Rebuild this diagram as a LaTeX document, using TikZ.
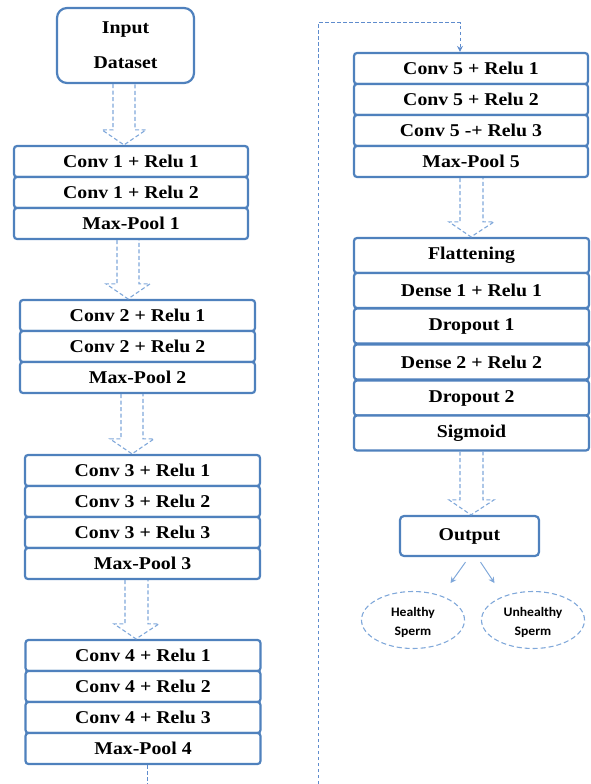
\documentclass[tikz,border=0pt]{standalone}
\usepackage{fontspec}
\setmainfont{Liberation Serif}[FakeStretch=1.1]
\newfontfamily\carl{Carlito}[FakeStretch=1.05]
\usetikzlibrary{calc,arrows.meta,shapes.geometric}
\definecolor{boxblue}{RGB}{79,129,189}
\definecolor{lblue}{RGB}{128,168,218}
\definecolor{lineblue}{RGB}{95,140,205}
\tikzset{
  layer/.style={draw=boxblue, line width=2.2pt, rounded corners=3pt, minimum height=31pt,
    inner sep=0pt, fill=white, font=\fontsize{18}{20}\selectfont\bfseries},
  harr/.style={draw=lblue, line width=1.1pt, dash pattern=on 4pt off 2.5pt},
  conn/.style={draw=lineblue, line width=1pt, dash pattern=on 3.5pt off 2.5pt},
  outcome/.style={ellipse, draw=lblue, line width=1.1pt, dash pattern=on 5pt off 3pt,
    minimum width=103pt, minimum height=57pt, inner sep=0pt, align=center,
    font=\carl\bfseries\fontsize{13}{19}\selectfont},
  smallarr/.style={draw=lblue, line width=1pt, -{Stealth[length=6pt,width=6pt]}}
}
\newcommand\harrow[5]{%
  \draw[harr] let \p1=(#1.south), \p2=(#2.north) in
    (#3pt,\y1) -- (#3pt,\y2+15pt) -- (#3pt-11pt,\y2+15pt) -- (#5pt,\y2)
    -- (#4pt+11pt,\y2+15pt) -- (#4pt,\y2+15pt) -- (#4pt,\y1);}
\begin{document}
\begin{tikzpicture}[x=1pt,y=-1pt]
\useasboundingbox (0,0) rectangle (591,784);

% Input
\node[draw=boxblue, line width=2.2pt, rounded corners=10pt, minimum width=137pt,
  minimum height=75pt, align=center, font=\fontsize{18}{35}\selectfont\bfseries]
  (in) at (125.5,45.5) {Input\\Dataset};

% Group 1
\node[layer, minimum width=234pt] (c1a) at (131,161.5) {Conv 1 + Relu 1};
\node[layer, minimum width=234pt] (c1b) at (131,192.5) {Conv 1 + Relu 2};
\node[layer, minimum width=234pt] (c1c) at (131,223.5) {Max-Pool 1};

% Group 2
\node[layer, minimum width=235pt] (c2a) at (137.5,315.5) {Conv 2 + Relu 1};
\node[layer, minimum width=235pt] (c2b) at (137.5,346.5) {Conv 2 + Relu 2};
\node[layer, minimum width=235pt] (c2c) at (137.5,377.5) {Max-Pool 2};

% Group 3
\node[layer, minimum width=235pt] (c3a) at (142.5,470.5) {Conv 3 + Relu 1};
\node[layer, minimum width=235pt] (c3b) at (142.5,501.5) {Conv 3 + Relu 2};
\node[layer, minimum width=235pt] (c3c) at (142.5,532.5) {Conv 3 + Relu 3};
\node[layer, minimum width=235pt] (c3d) at (142.5,563.5) {Max-Pool 3};

% Group 4
\node[layer, minimum width=235pt] (c4a) at (143,655.5) {Conv 4 + Relu 1};
\node[layer, minimum width=235pt] (c4b) at (143,686.5) {Conv 4 + Relu 2};
\node[layer, minimum width=235pt] (c4c) at (143,717.5) {Conv 4 + Relu 3};
\node[layer, minimum width=235pt] (c4d) at (143,748.5) {Max-Pool 4};

% Group 5
\node[layer, minimum width=234pt] (c5a) at (471,68.5) {Conv 5 + Relu 1};
\node[layer, minimum width=234pt] (c5b) at (471,99.5) {Conv 5 + Relu 2};
\node[layer, minimum width=234pt] (c5c) at (471,130.5) {Conv 5 -+ Relu 3};
\node[layer, minimum width=234pt] (c5d) at (471,161.5) {Max-Pool 5};

% Group 6
\node[layer, minimum width=235pt, minimum height=35pt] (fl) at (471.5,255.5) {Flattening};
\node[layer, minimum width=235pt, minimum height=35pt] (d1) at (471.5,290.5) {Dense 1 + Relu 1};
\node[layer, minimum width=235pt, minimum height=35pt] (dr1) at (471.5,326) {Dropout 1};
\node[layer, minimum width=235pt, minimum height=35pt] (d2) at (471.5,362) {Dense 2 + Relu 2};
\node[layer, minimum width=235pt, minimum height=35pt] (dr2) at (471.5,398) {Dropout 2};
\node[layer, minimum width=235pt, minimum height=35pt] (sg) at (471.5,433) {Sigmoid};

% Output
\node[draw=boxblue, line width=2.2pt, rounded corners=4pt, minimum width=139pt,
  minimum height=40pt, font=\fontsize{18}{20}\selectfont\bfseries]
  (out) at (469.5,536) {Output};

% Outcomes
\node[outcome] (hs) at (413,620) {};
\node[outcome] (us) at (533,620) {};
\node[align=center, font=\carl\bfseries\fontsize{13}{19}\selectfont, inner sep=0pt]
  (hst) at ($(hs.center)+(0,2)$) {Healthy\\Sperm};
\node[align=center, font=\carl\bfseries\fontsize{13}{19}\selectfont, inner sep=0pt]
  (ust) at ($(us.center)+(0,2)$) {Unhealthy\\Sperm};

% Hollow dashed arrows
\harrow{in}{c1a}{113}{135}{124}
\harrow{c1c}{c2a}{117}{139}{128}
\harrow{c2c}{c3a}{121}{143}{132}
\harrow{c3d}{c4a}{125}{148}{136}
\harrow{c5d}{fl}{460}{483}{471}
\harrow{sg}{out}{460}{483}{471}

% Page-continuation connector
\coordinate (b1) at (147,784);
\coordinate (b2) at (318,784);
\coordinate (tp) at (460,23);
\draw[conn] (b1 |- c4d.south) -- (b1);
\draw[conn, -{Stealth[length=6pt,width=6pt]}] (b2) |- (tp) -- (tp |- c5a.north);

% Small arrows to outcomes
\draw[smallarr] ($(out.south)+(-4,5)$) -- ($(out.south)+(-19,26)$);
\draw[smallarr] ($(out.south)+(11,5)$) -- ($(out.south)+(25,26)$);
\end{tikzpicture}
\end{document}
